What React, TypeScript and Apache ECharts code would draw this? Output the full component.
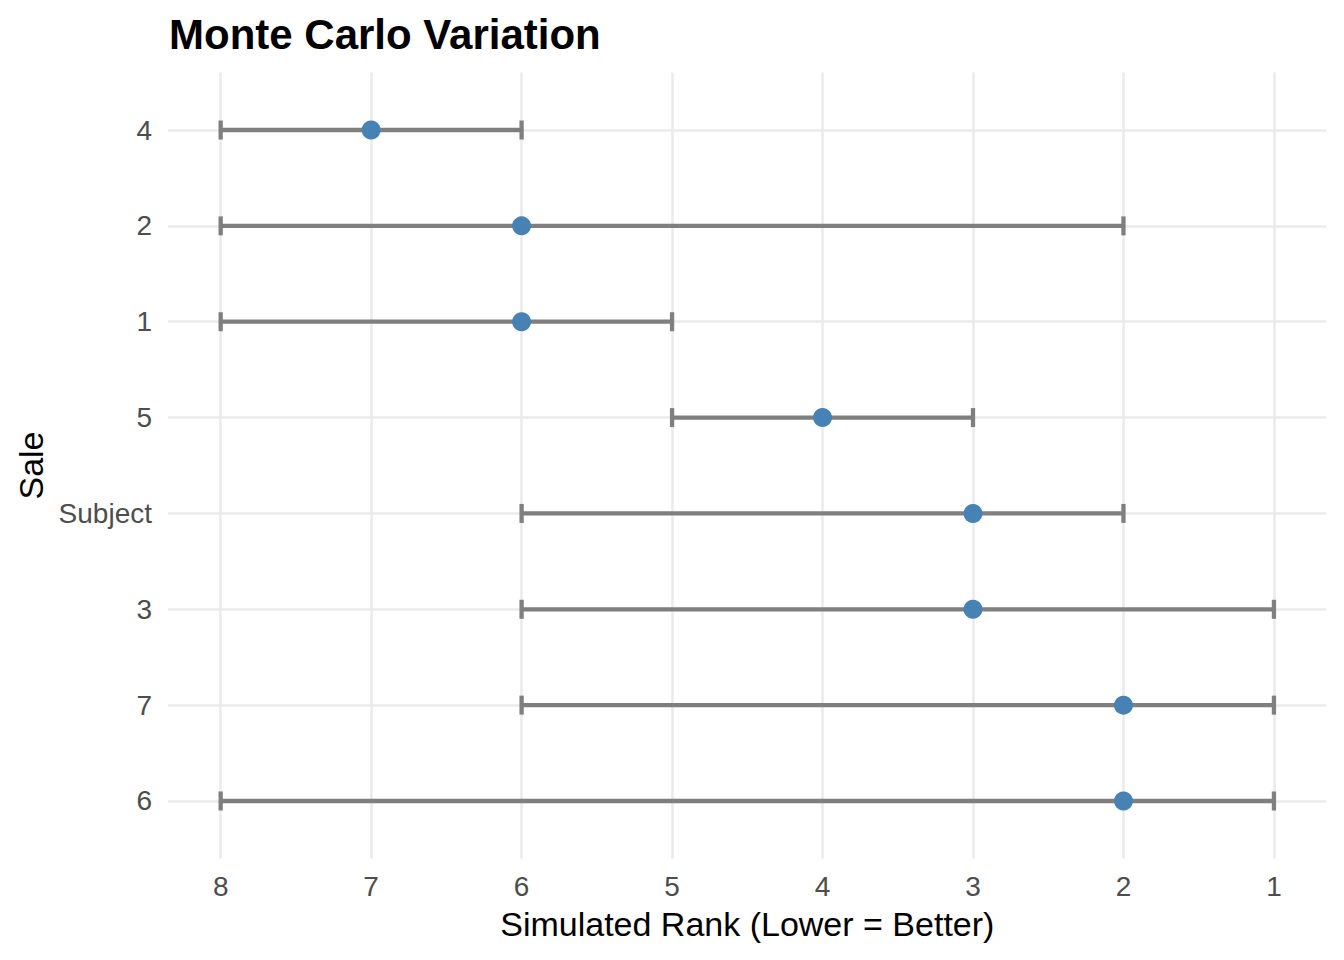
import React, { useEffect, useRef } from "react";
import * as echarts from "echarts";

const categories = ["4", "2", "1", "5", "Subject", "3", "7", "6"];
const lowerRank = [8, 8, 8, 5, 6, 6, 6, 8];
const pointRank = [7, 6, 6, 4, 3, 3, 2, 2];
const upperRank = [6, 2, 5, 3, 2, 1, 1, 1];
const rankTicks = [1, 2, 3, 4, 5, 6, 7, 8];

const FONT = "'Liberation Sans', Arial, sans-serif";

export default function App() {
  const ref = useRef<HTMLDivElement>(null);
  useEffect(() => {
    if (!ref.current) return;
    const chart = echarts.init(ref.current, null, { renderer: "svg" });
    const catIdx = categories.map((_, i) => i);
    const barData = categories.map((_, i) => [lowerRank[i], upperRank[i], i]);
    const ptData = categories.map((_, i) => [pointRank[i], i]);
    chart.setOption({
      animation: false,
      backgroundColor: "#ffffff",
      textStyle: { fontFamily: FONT },
      title: {
        text: "Monte Carlo Variation",
        left: 164,
        top: 8,
        textStyle: { fontFamily: FONT, fontWeight: "bold", fontSize: 42, color: "#000" },
      },
      grid: {
        left: 168,
        right: 17.4,
        top: 72.5,
        bottom: 101.5,
        containLabel: false,
        outerBoundsMode: "none",
      },
      xAxis: {
        type: "value",
        min: 0.65,
        max: 8.35,
        inverse: true,
        name: "Simulated Rank (Lower = Better)",
        nameLocation: "middle",
        nameGap: 48,
        nameTextStyle: { fontFamily: FONT, fontSize: 34, color: "#000" },
        axisLine: { show: false },
        axisTick: { show: false, customValues: rankTicks },
        axisLabel: {
          customValues: rankTicks,
          fontFamily: FONT,
          fontSize: 28,
          color: "#4d4d4d",
          margin: 14,
        },
        splitLine: { show: true, lineStyle: { color: "#ebebeb", width: 2.6 } },
      },
      yAxis: {
        type: "value",
        min: -0.6,
        max: 7.6,
        inverse: true,
        name: "Sale",
        nameLocation: "middle",
        nameGap: 118,
        nameRotate: 90,
        nameTextStyle: { fontFamily: FONT, fontSize: 34, color: "#000" },
        axisLine: { show: false },
        axisTick: { show: false, customValues: catIdx },
        axisLabel: {
          customValues: catIdx,
          formatter: (v: number) => categories[Math.round(v)] ?? "",
          fontFamily: FONT,
          fontSize: 28,
          color: "#4d4d4d",
          margin: 16,
        },
        splitLine: { show: true, lineStyle: { color: "#ebebeb", width: 2.6 } },
      },
      series: [
        {
          type: "custom",
          data: barData,
          encode: { x: [0, 1], y: 2 },
          renderItem: (params: any, api: any) => {
            const a = api.coord([api.value(0), api.value(2)]);
            const b = api.coord([api.value(1), api.value(2)]);
            const h = 9.5;
            const style = { stroke: "#7f7f7f", lineWidth: 4.3 };
            return {
              type: "group",
              children: [
                { type: "line", shape: { x1: a[0], y1: a[1], x2: b[0], y2: b[1] }, style },
                { type: "line", shape: { x1: a[0], y1: a[1] - h, x2: a[0], y2: a[1] + h }, style },
                { type: "line", shape: { x1: b[0], y1: b[1] - h, x2: b[0], y2: b[1] + h }, style },
              ],
            };
          },
          z: 2,
        },
        {
          type: "scatter",
          data: ptData,
          symbol: "circle",
          symbolSize: 19,
          itemStyle: { color: "#4682b4", opacity: 1 },
          z: 3,
        },
      ],
    });
    return () => chart.dispose();
  }, []);
  return (
    <div
      ref={ref}
      style={{ position: "fixed", left: 0, top: 0, width: 1344, height: 960, background: "#fff" }}
    />
  );
}
